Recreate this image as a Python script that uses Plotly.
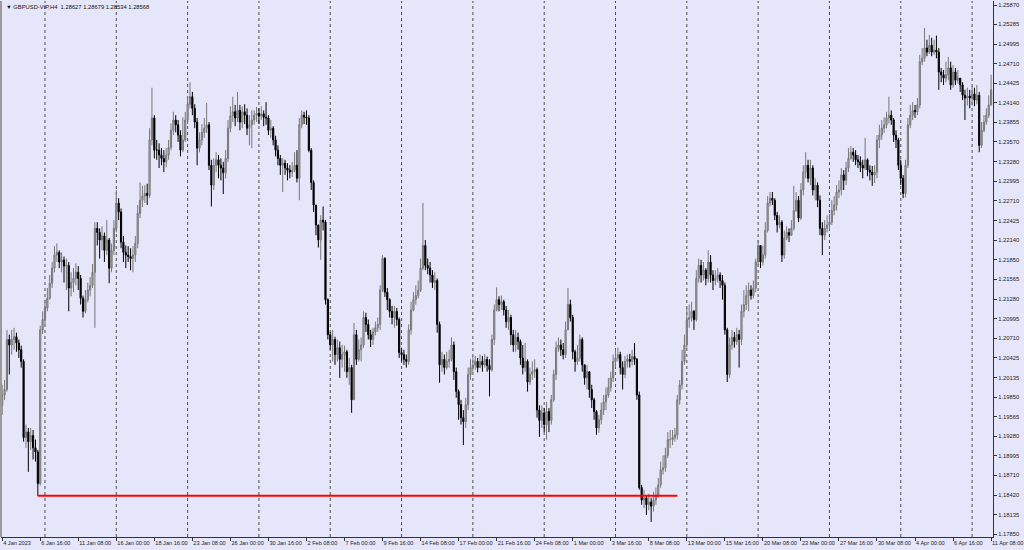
import numpy as np
import pandas as pd
import plotly.graph_objects as go

# ---------------- data (GBPUSD, H4) ----------------
chart_title = "GBPUSD-VIP,H4  1.28627 1.28679 1.28534 1.28568"
first_open = 1.1973

close = [
1.1988,1.1996,1.2069,1.2061,1.2069,1.2073,1.2064,1.2054,1.2037,1.1926,
1.1934,1.1920,1.1929,1.1911,1.1905,1.1859,1.2083,1.2098,1.2115,1.2129,
1.2151,1.2173,1.2192,1.2196,1.2182,1.2185,1.2176,1.2177,1.2144,1.2152,
1.2158,1.2167,1.2158,1.2129,1.2110,1.2127,1.2141,1.2148,1.2167,1.2231,
1.2225,1.2214,1.2220,1.2199,1.2214,1.2173,1.2199,1.2231,1.2268,1.2255,
1.2211,1.2196,1.2192,1.2190,1.2187,1.2192,1.2209,1.2253,1.2272,1.2278,
1.2282,1.2279,1.2360,1.2392,1.2345,1.2345,1.2338,1.2333,1.2328,1.2338,
1.2349,1.2374,1.2389,1.2382,1.2367,1.2345,1.2360,1.2389,1.2412,1.2423,
1.2406,1.2386,1.2348,1.2360,1.2371,1.2377,1.2382,1.2323,1.2294,1.2323,
1.2331,1.2323,1.2319,1.2312,1.2333,1.2377,1.2395,1.2401,1.2392,1.2403,
1.2386,1.2401,1.2396,1.2377,1.2382,1.2389,1.2396,1.2399,1.2395,1.2398,
1.2393,1.2392,1.2374,1.2377,1.2360,1.2345,1.2333,1.2323,1.2326,1.2319,
1.2316,1.2313,1.2316,1.2323,1.2304,1.2382,1.2396,1.2393,1.2392,1.2345,
1.2298,1.2265,1.2236,1.2214,1.2243,1.2240,1.2127,1.2076,1.2061,1.2069,
1.2047,1.2057,1.2040,1.2047,1.2051,1.2022,1.2028,1.1981,1.2076,1.2040,
1.2054,1.2061,1.2101,1.2091,1.2076,1.2069,1.2080,1.2086,1.2091,1.2141,
1.2187,1.2138,1.2127,1.2110,1.2101,1.2110,1.2098,1.2050,1.2047,1.2040,
1.2037,1.2083,1.2112,1.2127,1.2133,1.2141,1.2173,1.2206,1.2177,1.2173,
1.2163,1.2152,1.2155,1.2091,1.2032,1.2040,1.2028,1.2037,1.2040,1.2061,
1.2022,1.1993,1.1974,1.1955,1.1949,1.1974,1.2018,1.2028,1.2032,1.2037,
1.2028,1.2037,1.2032,1.2040,1.2031,1.2025,1.2069,1.2112,1.2127,1.2120,
1.2124,1.2112,1.2095,1.2101,1.2076,1.2061,1.2072,1.2066,1.2042,1.2028,
1.2037,1.2007,1.2018,1.2022,1.2025,1.1966,1.1951,1.1962,1.1945,1.1964,
1.1951,1.1981,1.2018,1.2057,1.2061,1.2054,1.2047,1.2083,1.2120,1.2101,
1.2051,1.2037,1.2042,1.2069,1.2032,1.2013,1.2022,1.1996,1.1981,1.1964,
1.1940,1.1952,1.1966,1.1978,1.1988,1.1999,1.2013,1.2037,1.2042,1.2047,
1.2028,1.2018,1.2037,1.2040,1.2037,1.2044,1.2040,1.1988,1.1853,1.1835,
1.1838,1.1828,1.1832,1.1826,1.1835,1.1842,1.1857,1.1879,1.1882,1.1900,
1.1923,1.1923,1.1926,1.1930,1.1981,1.2003,1.2037,1.2061,1.2098,1.2101,
1.2110,1.2098,1.2158,1.2177,1.2163,1.2170,1.2158,1.2182,1.2163,1.2155,
1.2158,1.2163,1.2155,1.2148,1.2083,1.2018,1.2061,1.2072,1.2066,1.2076,
1.2069,1.2110,1.2120,1.2133,1.2141,1.2133,1.2144,1.2182,1.2206,1.2182,
1.2192,1.2228,1.2268,1.2275,1.2272,1.2250,1.2236,1.2240,1.2192,1.2217,
1.2225,1.2221,1.2231,1.2257,1.2272,1.2246,1.2287,1.2313,1.2323,1.2304,
1.2319,1.2287,1.2294,1.2272,1.2231,1.2221,1.2231,1.2236,1.2240,1.2257,
1.2265,1.2284,1.2287,1.2309,1.2301,1.2319,1.2333,1.2342,1.2338,1.2331,
1.2328,1.2323,1.2319,1.2331,1.2316,1.2313,1.2309,1.2313,1.2360,1.2367,
1.2377,1.2382,1.2392,1.2396,1.2389,1.2367,1.2360,1.2323,1.2304,1.2282,
1.2323,1.2382,1.2396,1.2403,1.2401,1.2411,1.2474,1.2479,1.2494,1.2488,
1.2498,1.2488,1.2491,1.2488,1.2459,1.2455,1.2450,1.2455,1.2465,1.2440,
1.2459,1.2447,1.2450,1.2440,1.2425,1.2421,1.2424,1.2421,1.2427,1.2418,
1.2425,1.2352,1.2374,1.2386,1.2396,1.2411,1.2433]

high = [
1.2003,1.2010,1.2083,1.2076,1.2083,1.2086,1.2079,1.2069,1.2060,1.2040,
1.1945,1.1940,1.1940,1.1937,1.1923,1.1908,1.2089,1.2110,1.2127,1.2144,
1.2163,1.2182,1.2205,1.2209,1.2199,1.2196,1.2190,1.2187,1.2182,1.2167,
1.2173,1.2180,1.2176,1.2163,1.2133,1.2141,1.2152,1.2160,1.2179,1.2240,
1.2240,1.2231,1.2234,1.2225,1.2243,1.2217,1.2209,1.2243,1.2287,1.2275,
1.2260,1.2220,1.2206,1.2205,1.2202,1.2205,1.2220,1.2265,1.2298,1.2293,
1.2294,1.2296,1.2377,1.2436,1.2396,1.2360,1.2355,1.2348,1.2345,1.2348,
1.2360,1.2384,1.2401,1.2396,1.2389,1.2374,1.2393,1.2401,1.2424,1.2444,
1.2430,1.2412,1.2392,1.2371,1.2383,1.2392,1.2414,1.2386,1.2331,1.2333,
1.2342,1.2338,1.2333,1.2328,1.2345,1.2389,1.2409,1.2423,1.2411,1.2430,
1.2411,1.2409,1.2412,1.2406,1.2396,1.2403,1.2403,1.2408,1.2406,1.2409,
1.2403,1.2415,1.2396,1.2389,1.2380,1.2366,1.2352,1.2338,1.2333,1.2331,
1.2326,1.2323,1.2328,1.2342,1.2345,1.2392,1.2403,1.2401,1.2403,1.2396,
1.2348,1.2301,1.2265,1.2236,1.2250,1.2263,1.2243,1.2129,1.2080,1.2083,
1.2073,1.2069,1.2066,1.2061,1.2060,1.2054,1.2042,1.2032,1.2093,1.2083,
1.2069,1.2072,1.2110,1.2108,1.2098,1.2083,1.2086,1.2095,1.2101,1.2148,
1.2192,1.2189,1.2144,1.2129,1.2118,1.2118,1.2115,1.2101,1.2057,1.2054,
1.2047,1.2091,1.2124,1.2138,1.2148,1.2155,1.2187,1.2268,1.2214,1.2187,
1.2182,1.2170,1.2167,1.2158,1.2095,1.2051,1.2047,1.2051,1.2054,1.2072,
1.2066,1.2028,1.1996,1.1981,1.1966,1.1984,1.2028,1.2040,1.2044,1.2045,
1.2042,1.2047,1.2045,1.2048,1.2044,1.2040,1.2076,1.2120,1.2145,1.2132,
1.2133,1.2127,1.2118,1.2112,1.2105,1.2083,1.2083,1.2079,1.2069,1.2061,
1.2064,1.2040,1.2028,1.2037,1.2040,1.2028,1.1973,1.1973,1.1969,1.1978,
1.1969,1.1988,1.2025,1.2066,1.2072,1.2069,1.2064,1.2095,1.2144,1.2127,
1.2105,1.2054,1.2061,1.2076,1.2072,1.2032,1.2032,1.2022,1.2003,1.1984,
1.1966,1.1959,1.1977,1.1988,1.1999,1.2013,1.2022,1.2047,1.2054,1.2057,
1.2051,1.2037,1.2045,1.2047,1.2048,1.2054,1.2064,1.2042,1.1993,1.1857,
1.1850,1.1842,1.1844,1.1838,1.1847,1.1853,1.1867,1.1891,1.1900,1.1911,
1.1934,1.1937,1.1937,1.1940,1.1988,1.2010,1.2054,1.2076,1.2115,1.2120,
1.2124,1.2112,1.2170,1.2187,1.2185,1.2182,1.2173,1.2199,1.2192,1.2170,
1.2170,1.2173,1.2167,1.2163,1.2152,1.2086,1.2072,1.2083,1.2080,1.2086,
1.2083,1.2120,1.2141,1.2148,1.2152,1.2148,1.2155,1.2187,1.2214,1.2206,
1.2206,1.2240,1.2278,1.2284,1.2284,1.2275,1.2255,1.2250,1.2243,1.2228,
1.2234,1.2231,1.2243,1.2293,1.2284,1.2278,1.2297,1.2323,1.2342,1.2331,
1.2331,1.2323,1.2304,1.2298,1.2279,1.2240,1.2243,1.2250,1.2252,1.2272,
1.2278,1.2294,1.2301,1.2319,1.2316,1.2328,1.2348,1.2351,1.2348,1.2345,
1.2338,1.2336,1.2331,1.2363,1.2333,1.2323,1.2322,1.2323,1.2367,1.2382,
1.2389,1.2393,1.2401,1.2423,1.2403,1.2392,1.2374,1.2363,1.2331,1.2309,
1.2331,1.2392,1.2411,1.2415,1.2411,1.2421,1.2484,1.2494,1.2523,1.2506,
1.2513,1.2509,1.2506,1.2512,1.2494,1.2465,1.2462,1.2474,1.2481,1.2474,
1.2469,1.2465,1.2462,1.2450,1.2444,1.2433,1.2436,1.2433,1.2439,1.2436,
1.2440,1.2430,1.2386,1.2396,1.2406,1.2425,1.2455]

low = [
1.1959,1.1981,1.1993,1.2018,1.2047,1.2054,1.2051,1.2042,1.2028,1.1920,
1.1911,1.1876,1.1908,1.1894,1.1891,1.1841,1.1856,1.2077,1.2091,1.2110,
1.2127,1.2144,1.2167,1.2182,1.2173,1.2167,1.2152,1.2141,1.2110,1.2132,
1.2138,1.2148,1.2141,1.2120,1.2101,1.2107,1.2123,1.2132,1.2144,1.2086,
1.2206,1.2187,1.2199,1.2182,1.2192,1.2151,1.2167,1.2192,1.2225,1.2243,
1.2202,1.2182,1.2173,1.2182,1.2170,1.2167,1.2182,1.2202,1.2246,1.2262,
1.2268,1.2265,1.2275,1.2352,1.2333,1.2331,1.2319,1.2323,1.2313,1.2320,
1.2331,1.2345,1.2367,1.2371,1.2357,1.2336,1.2342,1.2357,1.2383,1.2406,
1.2396,1.2377,1.2323,1.2342,1.2352,1.2363,1.2370,1.2316,1.2263,1.2287,
1.2313,1.2304,1.2301,1.2281,1.2304,1.2328,1.2371,1.2386,1.2380,1.2386,
1.2374,1.2377,1.2383,1.2367,1.2352,1.2348,1.2382,1.2386,1.2383,1.2389,
1.2380,1.2382,1.2367,1.2363,1.2352,1.2336,1.2323,1.2309,1.2284,1.2309,
1.2301,1.2304,1.2306,1.2313,1.2298,1.2272,1.2377,1.2383,1.2382,1.2342,
1.2287,1.2255,1.2221,1.2203,1.2185,1.2228,1.2120,1.2069,1.2054,1.2037,
1.2032,1.2037,1.2013,1.2028,1.2022,1.2013,1.2003,1.1962,1.1981,1.2032,
1.2037,1.2037,1.2057,1.2080,1.2069,1.2058,1.2061,1.2075,1.2080,1.2083,
1.2138,1.2131,1.2112,1.2101,1.2091,1.2086,1.2089,1.2042,1.2037,1.2032,
1.2028,1.2032,1.2076,1.2110,1.2120,1.2129,1.2138,1.2170,1.2170,1.2164,
1.2152,1.2144,1.2141,1.2079,1.2006,1.2022,1.2018,1.2025,1.2028,1.2037,
1.2010,1.1984,1.1952,1.1945,1.1915,1.1940,1.1966,1.2010,1.2022,1.2025,
1.2021,1.2028,1.2022,1.2028,1.2022,1.1986,1.2022,1.2061,1.2110,1.2110,
1.2112,1.2104,1.2086,1.2083,1.2061,1.2051,1.2051,1.2054,1.2032,1.2018,
1.2022,1.1993,1.2003,1.2010,1.2013,1.1955,1.1927,1.1940,1.1934,1.1923,
1.1934,1.1945,1.1978,1.2010,1.2051,1.2045,1.2040,1.2042,1.2083,1.2095,
1.2040,1.2022,1.2032,1.2037,1.2022,1.2003,1.1996,1.1984,1.1969,1.1952,
1.1930,1.1933,1.1945,1.1959,1.1966,1.1984,1.1993,1.2007,1.2028,1.2037,
1.2018,1.1996,1.2013,1.2028,1.2028,1.2031,1.2032,1.1981,1.1850,1.1828,
1.1823,1.1813,1.1820,1.1803,1.1818,1.1828,1.1838,1.1853,1.1872,1.1876,
1.1896,1.1911,1.1915,1.1920,1.1923,1.1974,1.1996,1.2032,1.2057,1.2086,
1.2095,1.2083,1.2095,1.2152,1.2152,1.2155,1.2148,1.2152,1.2152,1.2141,
1.2148,1.2152,1.2144,1.2127,1.2076,1.2007,1.2013,1.2054,1.2057,1.2061,
1.2028,1.2061,1.2101,1.2112,1.2110,1.2127,1.2129,1.2138,1.2177,1.2173,
1.2177,1.2187,1.2225,1.2263,1.2265,1.2243,1.2225,1.2231,1.2182,1.2187,
1.2214,1.2211,1.2220,1.2228,1.2255,1.2240,1.2243,1.2279,1.2304,1.2298,
1.2294,1.2279,1.2272,1.2262,1.2221,1.2192,1.2214,1.2225,1.2228,1.2236,
1.2250,1.2257,1.2275,1.2279,1.2287,1.2294,1.2313,1.2331,1.2328,1.2323,
1.2319,1.2313,1.2304,1.2316,1.2307,1.2301,1.2293,1.2297,1.2304,1.2348,
1.2360,1.2370,1.2377,1.2384,1.2382,1.2357,1.2348,1.2316,1.2294,1.2275,
1.2276,1.2319,1.2377,1.2389,1.2392,1.2396,1.2406,1.2469,1.2474,1.2482,
1.2485,1.2482,1.2484,1.2479,1.2433,1.2444,1.2440,1.2444,1.2447,1.2433,
1.2436,1.2440,1.2442,1.2430,1.2418,1.2389,1.2410,1.2406,1.2410,1.2409,
1.2412,1.2342,1.2348,1.2371,1.2382,1.2392,1.2410]

time_labels = ["4 Jan 2023", "6 Jan 16:00", "11 Jan 08:00", "16 Jan 00:00", "18 Jan 16:00",
               "23 Jan 08:00", "26 Jan 00:00", "30 Jan 16:00", "2 Feb 08:00", "7 Feb 00:00",
               "9 Feb 16:00", "14 Feb 08:00", "17 Feb 00:00", "21 Feb 16:00", "24 Feb 08:00",
               "1 Mar 00:00", "3 Mar 16:00", "8 Mar 08:00", "13 Mar 00:00", "15 Mar 16:00",
               "20 Mar 08:00", "23 Mar 00:00", "27 Mar 16:00", "30 Mar 08:00", "4 Apr 00:00",
               "6 Apr 16:00", "11 Apr 08:00"]

price_ticks = [1.25285, 1.24995, 1.24710, 1.24425, 1.24140, 1.23855, 1.23570, 1.23280,
               1.22995, 1.22710, 1.22425, 1.22140, 1.21850, 1.21565, 1.21280, 1.20995,
               1.20710, 1.20425, 1.20135, 1.19850, 1.19565, 1.19280, 1.18995, 1.18710,
               1.18420, 1.18135, 1.17850]
top_price_label = "1.25870"

support_level = 1.1841
support_from = "6 Jan 12:00"
support_to = "10 Mar 08:00"

# ---------------- build ----------------
n = len(close)
times = pd.date_range("2023-01-04 00:00", periods=n * 2, freq="4h")
times = times[times.dayofweek < 5][:n]
stamps = [f"{t.day} {t.strftime('%b %H:%M')}" for t in times]
idx = np.arange(n)

opens = [first_open] + close[:-1]
hi = [max(h, o, c) for h, o, c in zip(high, opens, close)]
lo = [min(l, o, c) for l, o, c in zip(low, opens, close)]

tickvals = [0] + [stamps.index(s) for s in time_labels[1:]]
week_starts = [i for i, t in enumerate(times) if t.dayofweek == 0 and t.hour == 0]

BG = "#E6E6FA"
y_range = [1.1781, 1.25625]
x_range = [-0.5, n - 0.2]

fig = go.Figure()
fig.add_trace(go.Candlestick(
    x=idx, open=opens, high=hi, low=lo, close=close,
    increasing=dict(line=dict(color="#777777", width=1), fillcolor="#b0b0b0"),
    decreasing=dict(line=dict(color="#000000", width=1), fillcolor="#000000"),
    whiskerwidth=0, hoverinfo="skip", showlegend=False))

fig.add_trace(go.Scatter(
    x=[stamps.index(support_from), stamps.index(support_to)],
    y=[support_level, support_level], mode="lines",
    line=dict(color="#FF0000", width=2), hoverinfo="skip", showlegend=False))

shapes = []
for w in week_starts:
    shapes.append(dict(type="line", xref="x", yref="paper", x0=w, x1=w, y0=0, y1=1,
                       line=dict(color="#4d4d4d", width=1, dash="dot"), layer="below"))
# window frame on the left edge
shapes.append(dict(type="line", xref="paper", yref="paper", x0=0, x1=0, y0=0, y1=1,
                   line=dict(color="#9a9a9a", width=2)))

top_pos = y_range[1] - (y_range[1] - y_range[0]) * 4 / 536
FONT = "Liberation Sans, Arial, sans-serif"

fig.update_layout(
    width=1024, height=550,
    margin=dict(l=1, r=31, t=1, b=13),
    plot_bgcolor=BG, paper_bgcolor=BG,
    shapes=shapes,
    showlegend=False,
    font=dict(family=FONT, size=6, color="#222222"),
    xaxis=dict(range=x_range, showgrid=False, zeroline=False,
               rangeslider=dict(visible=False),
               tickmode="array", tickvals=tickvals, ticktext=time_labels,
               tickangle=0,
               ticks="outside", ticklen=3, tickcolor="#333333",
               ticklabelposition="outside right", ticklabeloverflow="allow",
               tickfont=dict(family=FONT, size=5.6, color="#222222"),
               showline=True, linecolor="#333333", linewidth=1),
    yaxis=dict(range=y_range, side="right", showgrid=False, zeroline=False,
               tickmode="array", tickvals=[top_pos] + price_ticks,
               ticktext=[top_price_label] + [f"{v:.5f}" for v in price_ticks],
               ticks="outside", ticklen=3, tickcolor="#333333",
               ticklabeloverflow="allow",
               tickfont=dict(family=FONT, size=5.8, color="#222222"),
               showline=True, linecolor="#333333", linewidth=1, mirror=False),
    annotations=[dict(text="\u25BC " + chart_title, xref="paper", yref="paper",
                      x=0.003, y=0.998, xanchor="left", yanchor="top", showarrow=False,
                      font=dict(family=FONT, size=5.8, color="#111111"))],
)

fig.write_html("out.html", config={"displayModeBar": False},
               post_script="document.body.style.margin='0';document.body.style.overflow='hidden';")
